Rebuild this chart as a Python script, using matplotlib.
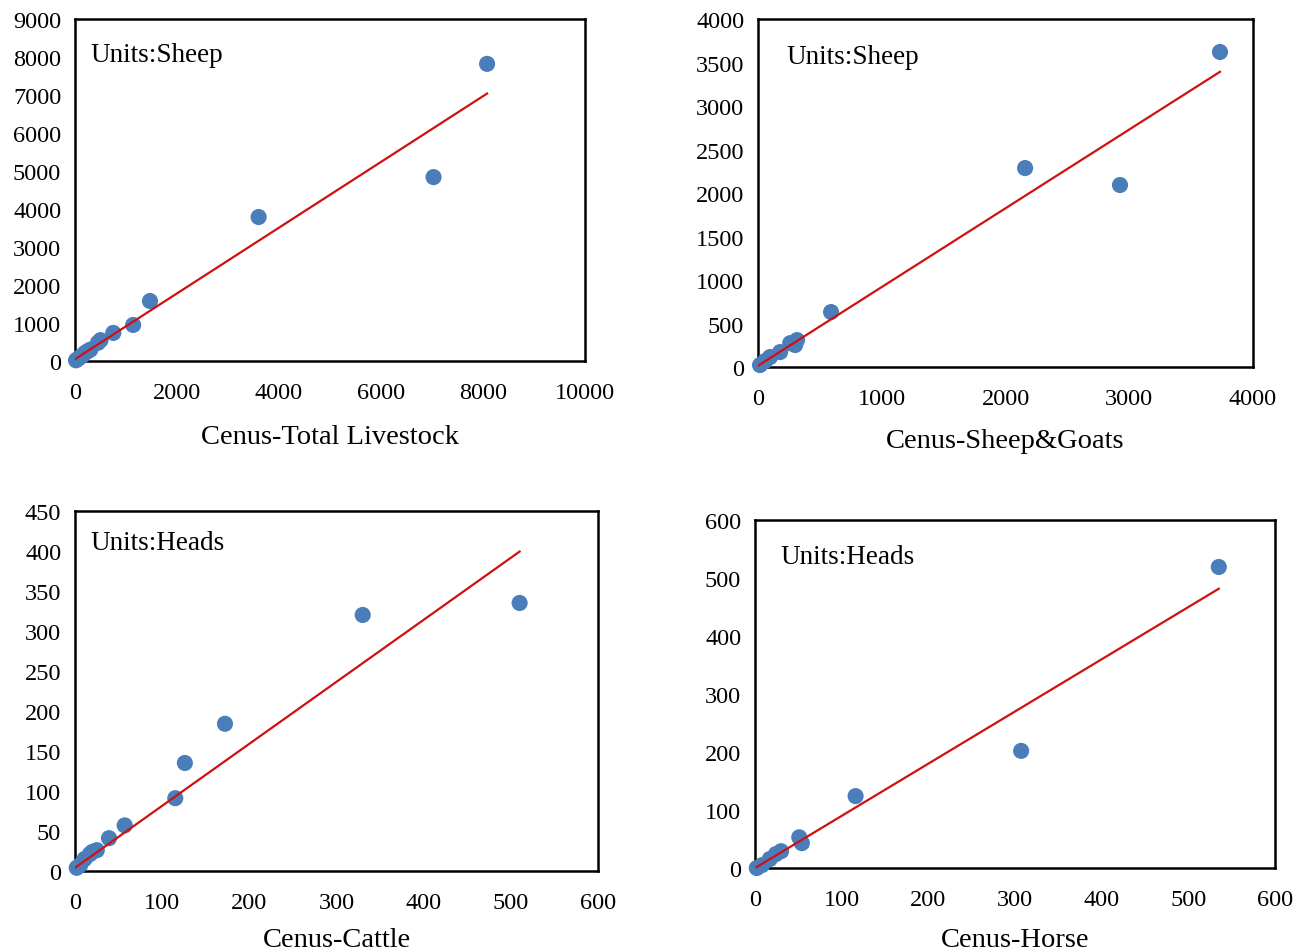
import matplotlib
matplotlib.use("Agg")
import matplotlib.pyplot as plt
import numpy as np

plt.rcParams['font.family'] = ['Liberation Serif', 'DejaVu Serif']

# Panel 1: Total Livestock (Units: Sheep)
tl_x = [8080, 7030, 3600, 1470, 1140, 750, 500, 450, 300, 250, 200, 150, 100, 50, 20]
tl_y = [7820, 4840, 3790, 1580, 950, 740, 550, 480, 300, 260, 220, 150, 100, 50, 20]
tl_fit = (0.865, 50)

# Panel 2: Sheep & Goats (Units: Sheep)
sg_x = [3733, 2158, 2925, 590, 315, 300, 260, 178, 97, 57, 16]
sg_y = [3621, 2287, 2092, 632, 310, 253, 275, 172, 115, 69, 23]
sg_fit = (0.905, 15)

# Panel 3: Cattle (Units: Heads)
ca_x = [510, 330, 172, 126, 115, 57, 39, 25, 20, 17, 11, 6, 2]
ca_y = [335, 320, 184, 135, 91, 57, 41, 26, 24, 21, 15, 7.5, 4]
ca_fit = (0.775, 4)

# Panel 4: Horse (Units: Heads)
ho_x = [535, 307, 116, 51, 54, 30, 24, 17, 8, 2]
ho_y = [519, 202, 124, 53, 43, 29, 24, 15.5, 5, 0]
ho_fit = (0.90, 0)

panels = [
    dict(x=tl_x, y=tl_y, fit=tl_fit, xlim=(0, 10000), ylim=(0, 9000),
         xticks=np.arange(0, 10001, 2000), yticks=np.arange(0, 9001, 1000),
         xlabel="Cenus-Total Livestock", unit="Units:Sheep",
         pos=[0.0574, 0.6201, 0.3902, 0.3589], upos=(15, 35), lpad=15),
    dict(x=sg_x, y=sg_y, fit=sg_fit, xlim=(0, 4000), ylim=(0, 4000),
         xticks=np.arange(0, 4001, 1000), yticks=np.arange(0, 4001, 500),
         xlabel="Cenus-Sheep&Goats", unit="Units:Sheep",
         pos=[0.5800, 0.6138, 0.3787, 0.3652], upos=(28, 37), lpad=14),
    dict(x=ca_x, y=ca_y, fit=ca_fit, xlim=(0, 600), ylim=(0, 450),
         xticks=np.arange(0, 601, 100), yticks=np.arange(0, 451, 50),
         xlabel="Cenus-Cattle", unit="Units:Heads",
         pos=[0.0574, 0.0850, 0.4002, 0.3778], upos=(15, 32), lpad=10),
    dict(x=ho_x, y=ho_y, fit=ho_fit, xlim=(0, 600), ylim=(0, 600),
         xticks=np.arange(0, 601, 100), yticks=np.arange(0, 601, 100),
         xlabel="Cenus-Horse", unit="Units:Heads",
         pos=[0.5777, 0.0881, 0.3979, 0.3652], upos=(25, 36), lpad=12),
]

fig = plt.figure(figsize=(13.07, 9.53), dpi=100)
for p in panels:
    ax = fig.add_axes(p["pos"])
    ax.scatter(p["x"], p["y"], s=135, color="#4a7ebb", zorder=3, clip_on=False,
               edgecolors="none")
    slope, icpt = p["fit"]
    xs = np.array([0, max(p["x"])])
    ax.plot(xs, slope * xs + icpt, color="#d01010", lw=1.6, zorder=4)
    ax.set_xlim(*p["xlim"])
    ax.set_ylim(*p["ylim"])
    ax.set_xticks(p["xticks"])
    ax.set_yticks(p["yticks"])
    ax.tick_params(axis="both", length=0, labelsize=17.5)
    ax.tick_params(axis="x", pad=15)
    ax.tick_params(axis="y", pad=10)
    for sp in ax.spines.values():
        sp.set_linewidth(1.8)
        sp.set_color("black")
    ax.set_xlabel(p["xlabel"], fontsize=20.5, labelpad=p["lpad"])
    ax.annotate(p["unit"], xy=(0, 1), xycoords="axes fraction",
                xytext=(p["upos"][0], -p["upos"][1]), textcoords="offset pixels",
                fontsize=19.5, va="center", ha="left")

fig.savefig("out.png", dpi=100)
